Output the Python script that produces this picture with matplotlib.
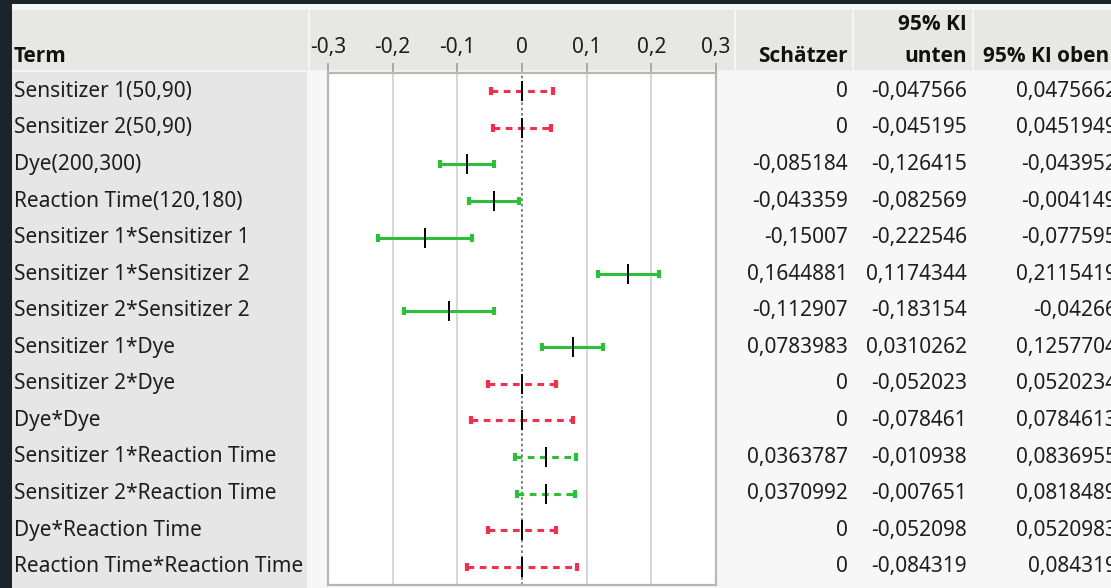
import matplotlib.pyplot as plt
import matplotlib.transforms as mtransforms
from matplotlib.patches import Rectangle

plt.rcParams['font.family'] = ['Noto Sans', 'DejaVu Sans']

# Daten aus der Tabelle
terme = ["Sensitizer 1(50,90)", "Sensitizer 2(50,90)", "Dye(200,300)",
         "Reaction Time(120,180)", "Sensitizer 1*Sensitizer 1",
         "Sensitizer 1*Sensitizer 2", "Sensitizer 2*Sensitizer 2",
         "Sensitizer 1*Dye", "Sensitizer 2*Dye", "Dye*Dye",
         "Sensitizer 1*Reaction Time", "Sensitizer 2*Reaction Time",
         "Dye*Reaction Time", "Reaction Time*Reaction Time"]
schaetzer = [0, 0, -0.085184, -0.043359, -0.15007, 0.1644881, -0.112907,
             0.0783983, 0, 0, 0.0363787, 0.0370992, 0, 0]
ki_unten = [-0.047566, -0.045195, -0.126415, -0.082569, -0.222546, 0.1174344,
            -0.183154, 0.0310262, -0.052023, -0.078461, -0.010938, -0.007651,
            -0.052098, -0.084319]
ki_oben = [0.0475662, 0.0451949, -0.043952, -0.004149, -0.077595, 0.2115419,
           -0.04266, 0.1257704, 0.0520234, 0.0784613, 0.0836955, 0.0818489,
           0.0520983, 0.084319]
ticks = [-0.3, -0.2, -0.1, 0, 0.1, 0.2, 0.3]
tick_labels = ["-0,3", "-0,2", "-0,1", "0", "0,1", "0,2", "0,3"]

GRUEN = '#2cc03a'
ROT = '#f0304c'
W, H = 1111, 588
FS = 15


def fmt(v):
    # deutsches Zahlenformat
    if v == 0:
        return "0"
    return repr(v).replace('.', ',')


fig = plt.figure(figsize=(W / 100, H / 100), dpi=100)
fig.patch.set_facecolor('#1b242b')

# Hintergrund in Pixelkoordinaten
bg = fig.add_axes([0, 0, 1, 1])
bg.set_xlim(0, W)
bg.set_ylim(H, 0)
bg.axis('off')


def box(x0, y0, x1, y1, c):
    bg.add_patch(Rectangle((x0, y0), x1 - x0, y1 - y0, facecolor=c, edgecolor='none'))


box(12, 4, W, H, '#f5f5f5')
for x0, x1 in [(12, 308), (310, 734), (736, 852), (854, 972), (974, W)]:
    box(x0, 10, x1, 70, '#e7e7e5')
box(12, 72, 307, H, '#e6e6e6')
box(310, 72, W, H, '#f7f7f7')

# Plotbereich
ax = fig.add_axes([328 / W, 3 / H, 388 / W, 512 / H])
ax.set_facecolor('white')
ax.set_xlim(-0.3, 0.3)
ax.set_ylim(len(terme) - 0.5, -0.5)
ax.set_yticks([])
ax.xaxis.tick_top()
ax.set_xticks(ticks)
ax.set_xticklabels(tick_labels)
ax.tick_params(axis='x', direction='out', length=7, width=1.2, color='#a0a0a0',
               labelsize=FS, pad=4, labelcolor='#1e1e1e')
for s in ax.spines.values():
    s.set_color('#b8b8b0')
    s.set_linewidth(1.6)

for t in ticks[1:-1]:
    if t != 0:
        ax.axvline(t, color='#d6d6d6', lw=1.4, zorder=1)
ax.axvline(0, color='#6e6e6e', lw=1.2, ls=(0, (1.6, 1.6)), zorder=2)

for i in range(len(terme)):
    farbe = GRUEN if schaetzer[i] != 0 else ROT
    gestrichelt = ki_unten[i] < 0 < ki_oben[i]
    ls = (0, (2.2, 1.8)) if gestrichelt else '-'
    ax.plot([ki_unten[i], ki_oben[i]], [i, i], color=farbe, lw=2.2, ls=ls,
            solid_capstyle='butt', dash_capstyle='butt', zorder=3)
    ax.plot([ki_unten[i], ki_oben[i]], [i, i], ls='none', marker='|', ms=6,
            mew=3, color=farbe, zorder=3)
    ax.plot([schaetzer[i]], [i], ls='none', marker='|', ms=14, mew=1.4,
            color='black', zorder=4)

# Tabellentexte
tr = mtransforms.blended_transform_factory(bg.transData, ax.transData)
txt = dict(fontsize=FS, color='#1e1e1e', va='center')
for i in range(len(terme)):
    bg.text(14, i, terme[i], transform=tr, ha='left', **txt)
    bg.text(848, i, fmt(schaetzer[i]), transform=tr, ha='right', **txt)
    bg.text(967, i, fmt(ki_unten[i]), transform=tr, ha='right', **txt)
    bg.text(1117, i, fmt(ki_oben[i]), transform=tr, ha='right', **txt)

kopf = dict(fontsize=FS, color='#111111', va='center', fontweight='bold',
            family=['Open Sans', 'DejaVu Sans'])
bg.text(14, 57, "Term", ha='left', **kopf)
bg.text(848, 57, "Schätzer", ha='right', **kopf)
bg.text(967, 25, "95% KI", ha='right', **kopf)
bg.text(967, 57, "unten", ha='right', **kopf)
bg.text(983, 57, "95% KI oben", ha='left', **kopf)

fig.savefig('out.png', dpi=100, facecolor=fig.get_facecolor())
